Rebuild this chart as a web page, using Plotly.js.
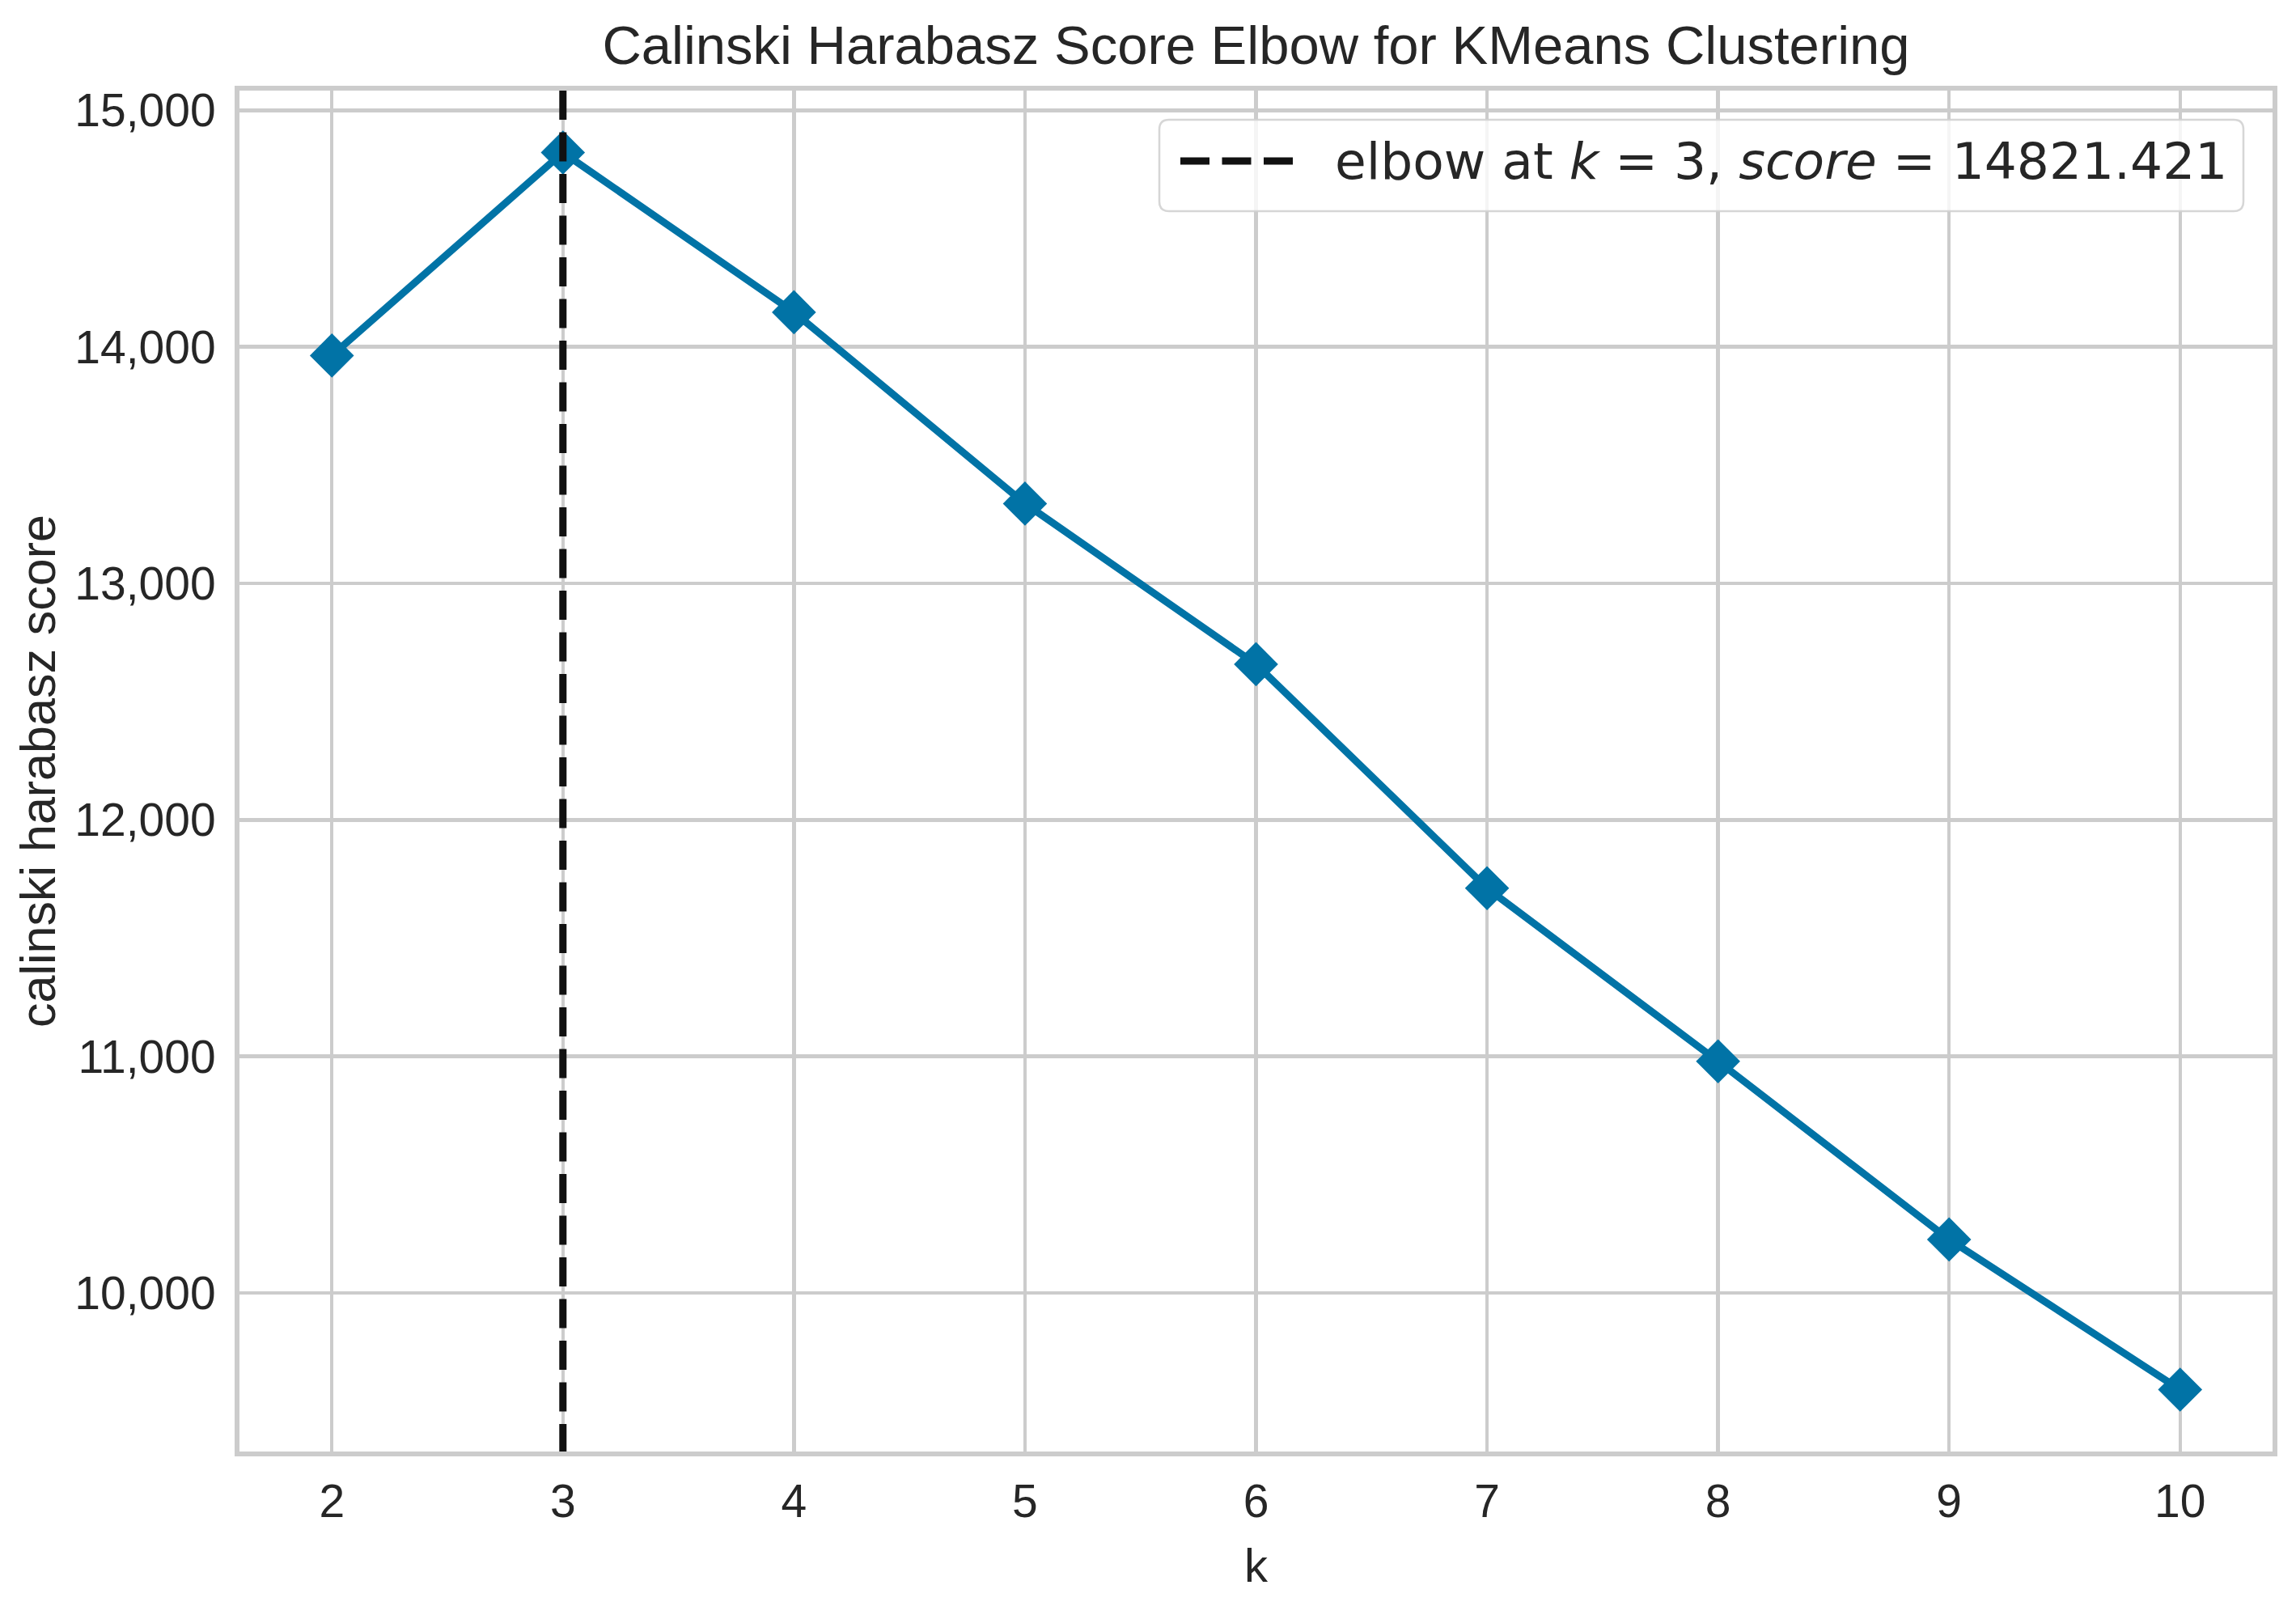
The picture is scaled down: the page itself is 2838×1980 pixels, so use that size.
<!DOCTYPE html>
<html>
<head>
<meta charset="utf-8">
<script src="https://cdn.plot.ly/plotly-3.0.1.min.js"></script>
<style>html,body{margin:0;padding:0;background:#fff;}#chart{width:2838px;height:1980px;}</style>
</head>
<body>
<div id="chart"></div>
<script>
// ---- data ----
const kValues = [2, 3, 4, 5, 6, 7, 8, 9, 10];
const chScores = [13963, 14821.421, 14146, 13337, 12658, 11711, 10979, 10226, 9591];
const elbowK = 3;
const elbowScore = 14821.421;
const xTickValues = [2, 3, 4, 5, 6, 7, 8, 9, 10];
const yTickValues = [10000, 11000, 12000, 13000, 14000, 15000];
const titleText = "Calinski Harabasz Score Elbow for KMeans Clustering";
const xLabel = "k";
const yLabel = "calinski harabasz score";

// ---- styling ----
const blue = "#0173A6";
const grid = "#cccccc";
const textColor = "#262626";
const font = "Liberation Sans, Arial, sans-serif";

// axis ranges with 5% padding like matplotlib
const kMin = Math.min(...kValues), kMax = Math.max(...kValues);
const sMin = Math.min(...chScores), sMax = Math.max(...chScores);
const xPad = (kMax - kMin) * 0.05, yPad = (sMax - sMin) * 0.05;

const traces = [{
  type: "scatter",
  mode: "lines+markers",
  x: kValues,
  y: chScores,
  line: {color: blue, width: 9},
  marker: {symbol: "diamond", size: 42, color: blue, line: {width: 0}},
  showlegend: false,
  hoverinfo: "x+y"
}];

const legendText = `elbow at <i>k</i> = ${elbowK}, <i>score</i> = ${elbowScore.toFixed(3)}`;

const layout = {
  width: 2838,
  height: 1980,
  paper_bgcolor: "#ffffff",
  plot_bgcolor: "#ffffff",
  margin: {l: 296, r: 29, t: 112, b: 186, pad: 0},
  showlegend: false,
  title: {
    text: titleText,
    font: {family: font, size: 67, color: textColor},
    x: 0.5, xref: "paper", xanchor: "center",
    y: 1 - 56 / 1980, yref: "container", yanchor: "middle"
  },
  xaxis: {
    range: [kMin - xPad, kMax + xPad],
    tickmode: "array",
    tickvals: xTickValues,
    ticktext: xTickValues.map(String),
    showgrid: true, gridcolor: grid, gridwidth: 4.5,
    zeroline: false,
    showline: true, mirror: true, linecolor: grid, linewidth: 6,
    ticks: "",
    ticklabelstandoff: 7,
    tickfont: {family: font, size: 57, color: textColor},
    automargin: false,
    title: {text: xLabel, font: {family: font, size: 58, color: textColor}, standoff: 30}
  },
  yaxis: {
    range: [sMin - yPad, sMax + yPad],
    tickmode: "array",
    tickvals: yTickValues,
    ticktext: yTickValues.map(v => v.toLocaleString("en-US")),
    showgrid: true, gridcolor: grid, gridwidth: 4.5,
    zeroline: false,
    showline: true, mirror: true, linecolor: grid, linewidth: 6,
    ticks: "",
    ticklabelstandoff: 12,
    tickfont: {family: font, size: 57, color: textColor},
    automargin: false,
    title: {text: yLabel, font: {family: font, size: 61, color: textColor}, standoff: 6}
  },
  shapes: [
    // elbow vertical dashed line
    {type: "line", xref: "x", yref: "paper", x0: elbowK, x1: elbowK, y0: 1, y1: 0,
     line: {color: "#111111", width: 9, dash: "36px,15.5px"}, layer: "above"},
    // legend box (rounded)
    {type: "path", xref: "paper", yref: "paper", xsizemode: "pixel", ysizemode: "pixel",
     xanchor: 1, yanchor: 1,
     path: "M -1364,-36 L -48,-36 Q -36,-36 -36,-48 L -36,-137 Q -36,-149 -48,-149 L -1364,-149 Q -1376,-149 -1376,-137 L -1376,-48 Q -1376,-36 -1364,-36 Z",
     fillcolor: "rgba(255,255,255,0.8)", line: {color: "rgba(210,210,210,0.9)", width: 2.5}, layer: "above"},
    // legend dash sample
    {type: "line", xref: "paper", yref: "paper", xsizemode: "pixel", ysizemode: "pixel",
     xanchor: 1, yanchor: 1, x0: -1350, x1: -1211, y0: -87, y1: -87,
     line: {color: "#111111", width: 9, dash: "36px,15.5px"}, layer: "above"}
  ],
  annotations: [
    {text: legendText, xref: "paper", yref: "paper",
     x: (1648 - 296) / 2513, y: 1 - (199 - 112) / 1682,
     xanchor: "left", yanchor: "middle", showarrow: false,
     font: {family: "DejaVu Sans, sans-serif", size: 63, color: textColor}}
  ]
};

Plotly.newPlot("chart", traces, layout, {displayModeBar: false, staticPlot: true});
</script>
</body>
</html>
